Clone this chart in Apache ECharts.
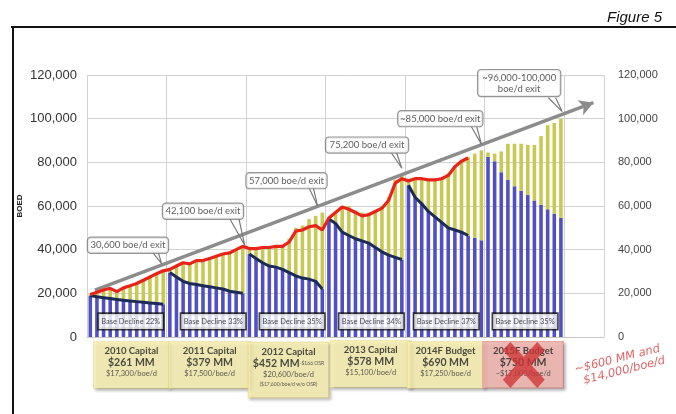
<!DOCTYPE html>
<html><head><meta charset="utf-8">
<script src="https://cdn.jsdelivr.net/npm/echarts@6/dist/echarts.min.js"></script>
<style>html,body{margin:0;padding:0;background:#fff}#c{width:676px;height:414px}</style>
</head><body><div id="c"></div>
<script>
// ---------------- data ----------------
const years = ['2010','2011','2012','2013','2014','2015','2016'];
const months = ['Jan','Feb','Mar','Apr','May','Jun','Jul','Aug','Sep','Oct','Nov','Dec'];
// base (blue) production, monthly 2010-2015
const baseProduction = [
  19000,18400,18000,17600,17200,16800,16500,16200,15900,15600,15300,15000,
  29500,27500,25500,24500,24000,23500,23000,22500,22000,21000,20500,20000,
  38000,36000,34000,32500,32000,31000,29500,28000,27000,26500,25500,22000,
  54000,52000,48000,46500,45000,44000,43000,41000,39000,37500,36500,35500,
  69500,64000,61000,57500,55000,52500,50000,49000,48000,46500,45500,44300,
  82500,80500,75500,72000,69000,67000,65000,62500,60500,58500,56500,54500
];
// total production (top of yellow bars)
const totalProduction = [
  19500,20500,21500,22300,21000,22500,23500,24500,26000,27500,29000,30300,
  31000,32500,34000,34000,35000,35000,36000,37000,38000,38500,40000,41500,
  40000,40500,41000,41000,41500,42000,45000,50000,51000,54000,55500,57000,
  55000,57000,60000,60000,58000,57000,57000,58000,60000,64000,72000,74500,
  72500,73000,72500,72500,72500,73000,75000,78500,80500,82500,84000,85500,
  84500,84000,85000,88500,88500,88500,88000,88000,92000,97000,98000,100000
];
// actual production (red line) through Oct 2014
const actualProduction = [
  19500,20500,21500,22300,20800,22500,23500,24500,26000,27500,29000,30300,
  31000,32500,34000,33500,35000,35000,36000,37000,38000,38500,40000,41500,
  40500,40500,41000,41000,41500,41500,43500,48500,49000,50500,51000,49000,
  54500,57000,59500,58500,57000,55500,56000,57500,59000,62500,70500,72500,
  71500,72500,72500,72000,72000,72500,74000,78000,80500,82000
];
const baseLineEnds = [11,23,35,47,57];
const exitLabels = ['30,600 boe/d exit','42,100 boe/d exit','57,000 boe/d exit','75,200 boe/d exit','~85,000 boe/d exit','~96,000-100,000\nboe/d exit'];
const declineLabels = ['Base Decline 22%','Base Decline 33%','Base Decline 35%','Base Decline 34%','Base Decline 37%','Base Decline 35%'];
const capitalTitles = ['2010 Capital','2011 Capital','2012 Capital','2013 Capital','2014F Budget','2015F Budget'];
const capitalAmounts = ['$261 MM','$379 MM','$452 MM','$578 MM','$690 MM','$750 MM'];
const capitalNotes = ['','','-$166 OSR','','',''];
const capitalPerBoe = ['$17,300/boe/d','$17,500/boe/d','$20,600/boe/d','$15,100/boe/d','$17,250/boe/d','~$17,000/boe/d'];
const capitalExtra = ['','','($17,600/boe/d w/o OSR)','','',''];
const handNotes = ['~$600 MM and','$14,000/boe/d'];
const yTickStep = 20000, yMax = 120000;

// ---------------- layout (data-space positions of annotations) ----------------
const nCat = 78;
const categories = [];
for (let y = 0; y < 7; y++) for (let m = 0; m < 12; m++) if (categories.length < nCat) categories.push(months[m] + '-' + years[y]);
const pad = a => a.concat(new Array(nCat - a.length).fill(null));
const growth = totalProduction.map((t, i) => t - baseProduction[i]);

const calloutBox = [[6.18,42000],[17.5,57600],[30.1,71600],[42.25,87900],[53.3,100000],[65.2,116300]];
const calloutW = [72,72,72,74,76,74];
const calloutTail = [
  [[9.75,39300],[11.25,33600],[10.7,39300]],
  [[21.5,54400],[23.8,42000],[22.9,54400]],
  [[33.3,69600],[34.8,59900],[34.05,69600]],
  [[45.9,84400],[47.5,77300],[46.7,84400]],
  [[58.0,96300],[59.5,88300],[58.8,96300]],
  [[69.6,109600],[71.7,103200],[70.7,109600]]
];
const arrowFrom = [1.2,21500], arrowTo = [76.4,107300];
const declineX = [6.6,19.05,30.95,42.9,54.2,66.1], declineY = 7150;
const capX = [6.7,18.5,30.4,42.8,54.1,65.8];
const capY = [-12800,-12800,-15100,-12400,-12800,-12700];
const capW = [71,77,76,76,72,76];
const crossAt = [65.9,-12800];

const chart = echarts.init(document.getElementById('c'), null, {renderer:'canvas'});
const FONT = 'Lato';

const series = [];
series.push({type:'bar', name:'Base', stack:'p', data: pad(baseProduction), barWidth:'54%',
  itemStyle:{color:'#5050c4'}, silent:true, z:2});
series.push({type:'bar', name:'Growth', stack:'p', data: pad(growth), barWidth:'54%',
  itemStyle:{color:'#c8c852'}, silent:true, z:2});
// base decline lines
baseLineEnds.forEach((end, k) => {
  const d = new Array(nCat).fill(null);
  for (let i = 12*k; i <= end; i++) d[i] = baseProduction[i];
  series.push({type:'line', data:d, symbol:'none', connectNulls:false, z:4,
    lineStyle:{color:'#1c2a58', width:3}, silent:true});
});
series.push({type:'line', name:'Actual', data: pad(actualProduction), symbol:'none', z:5,
  lineStyle:{color:'#e8231a', width:3.2}, silent:true});
// arrow
series.push({type:'line', xAxisIndex:1, data:[], z:6, silent:true,
  markLine:{silent:true, symbol:['none','arrow'], symbolSize:[12,14], animation:false,
    label:{show:false}, lineStyle:{color:'#8c8c8c', width:3.5, type:'solid'},
    data:[[{coord:arrowFrom},{coord:arrowTo}]]}});
// callout tails
calloutTail.forEach(t => series.push({type:'line', xAxisIndex:1, data:t, symbol:'none', z:7, silent:true,
  lineStyle:{color:'#7a7a7a', width:1.2}}));
// callout boxes
series.push({type:'scatter', xAxisIndex:1, z:8, silent:true, clip:false, symbolSize:1,
  itemStyle:{color:'rgba(0,0,0,0)'},
  data: calloutBox.map((p, i) => ({value:p, label:{width:calloutW[i], formatter: exitLabels[i]}})),
  label:{show:true, position:'inside', align:'center', fontFamily:FONT, fontSize:9.5, color:'#333',
    lineHeight:11, padding:[2,4], backgroundColor:'#fff', borderColor:'#7a7a7a', borderWidth:1.2, borderRadius:3}});
// base decline boxes
series.push({type:'scatter', xAxisIndex:1, z:8, silent:true, clip:false, symbolSize:1,
  itemStyle:{color:'rgba(0,0,0,0)'},
  data: declineX.map((x, i) => ({value:[x, declineY], label:{formatter: declineLabels[i]}})),
  label:{show:true, position:'inside', align:'center', width:60, fontFamily:FONT, fontSize:7.5, color:'#222',
    lineHeight:11, padding:[2,2], backgroundColor:'#fff', borderColor:'#111', borderWidth:1.6}});
// capital boxes
series.push({type:'scatter', xAxisIndex:1, z:8, silent:true, clip:false, symbolSize:1,
  itemStyle:{color:'rgba(0,0,0,0)'},
  data: capX.map((x, i) => {
    let f = '{t|' + capitalTitles[i] + '}\n{m|' + capitalAmounts[i] + '}' + (capitalNotes[i] ? '{s|' + capitalNotes[i] + '}' : '') +
      '\n{p|' + capitalPerBoe[i] + '}' + (capitalExtra[i] ? '\n{s|' + capitalExtra[i] + '}' : '');
    const red = i === 5;
    return {value:[x, capY[i]], label:{width:capW[i], formatter:f,
      backgroundColor: red ? '#f4b4ae' : '#fbf3b0', borderColor: red ? '#dc8f8a' : '#e8dc8c'}};
  }),
  label:{show:true, position:'inside', align:'center', padding:[3,2,9,2], borderWidth:0.8,
    shadowBlur:3, shadowColor:'rgba(0,0,0,0.35)', shadowOffsetX:2, shadowOffsetY:2,
    rich:{
      t:{fontFamily:FONT, fontWeight:'bold', fontSize:9.5, lineHeight:12, color:'#222'},
      m:{fontFamily:FONT, fontWeight:'bold', fontSize:10.5, lineHeight:12, color:'#222'},
      p:{fontFamily:FONT, fontSize:7.5, lineHeight:10, color:'#333'},
      s:{fontFamily:FONT, fontSize:5, lineHeight:9, color:'#333'}
    }}});
// handwritten note
series.push({type:'scatter', xAxisIndex:1, z:9, silent:true, clip:false, symbolSize:1,
  itemStyle:{color:'rgba(0,0,0,0)'},
  data:[{value:[80.0,-10200], label:{formatter:handNotes[0]}},{value:[81.05,-15400], label:{formatter:handNotes[1]}}],
  label:{show:true, position:'inside', rotate:14, fontFamily:'DejaVu Sans', fontStyle:'italic', fontWeight:'lighter',
    fontSize:11.5, color:'#d8393a'}});

const fmt = v => v.toLocaleString('en-US');
chart.setOption({
  animation:false,
  backgroundColor:'#fff',
  title:{text:'Figure 5', right:9, top:5, textStyle:{fontFamily:'Liberation Sans', fontStyle:'italic', fontWeight:'normal', fontSize:15, color:'#111'}},
  grid:{left:87, right:72, top:75, bottom:77, containLabel:false},
  xAxis:[
    {type:'category', data:categories, boundaryGap:true,
      axisLine:{show:true, lineStyle:{color:'#c8c8c8'}}, axisTick:{show:false}, axisLabel:{show:false},
      splitLine:{show:true, interval:11, lineStyle:{color:'#d2d2d2', width:1}}},
    {type:'value', min:0, max:nCat, show:false, splitLine:{show:false}}
  ],
  yAxis:[
    {type:'value', min:0, max:yMax, interval:yTickStep, position:'left', name:'BOED', nameLocation:'middle', nameRotate:90, nameGap:63,
      nameMoveOverlap:false,
      nameTextStyle:{fontFamily:'Liberation Sans', fontWeight:'bold', fontSize:8, color:'#222'},
      axisLine:{show:false}, axisTick:{show:false},
      axisLabel:{formatter:fmt, fontFamily:'Liberation Sans', fontSize:13, color:'#333', margin:10},
      splitLine:{lineStyle:{color:'#d2d2d2', width:1}}},
    {type:'value', min:0, max:yMax, interval:yTickStep, position:'right',
      axisLine:{show:false}, axisTick:{show:false}, splitLine:{show:false},
      axisLabel:{formatter:fmt, fontFamily:'Liberation Sans', fontSize:11, color:'#444', margin:14}}
  ],
  series: series
});

// frame and red X over the 2015 budget box (X placed via the chart's own scales)
const c = chart.convertToPixel({xAxisIndex:1, yAxisIndex:0}, crossAt);
const W = 42, H = 46;
const shape = [[0,18],[18,0],[50,32],[82,0],[100,18],[68,50],[100,82],[82,100],[50,68],[18,100],[0,82],[32,50]];
chart.setOption({graphic:[
  {type:'line', shape:{x1:11, y1:27, x2:676, y2:27}, style:{stroke:'#111', lineWidth:2}, silent:true},
  {type:'line', shape:{x1:13, y1:26, x2:13, y2:414}, style:{stroke:'#111', lineWidth:2}, silent:true},
  {type:'polygon', z:100, silent:true,
    shape:{points: shape.map(p => [c[0] - W/2 + p[0]*W/100, c[1] - H/2 + p[1]*H/100])},
    style:{fill:'rgba(206,52,52,0.78)'}}
]});
</script></body></html>
